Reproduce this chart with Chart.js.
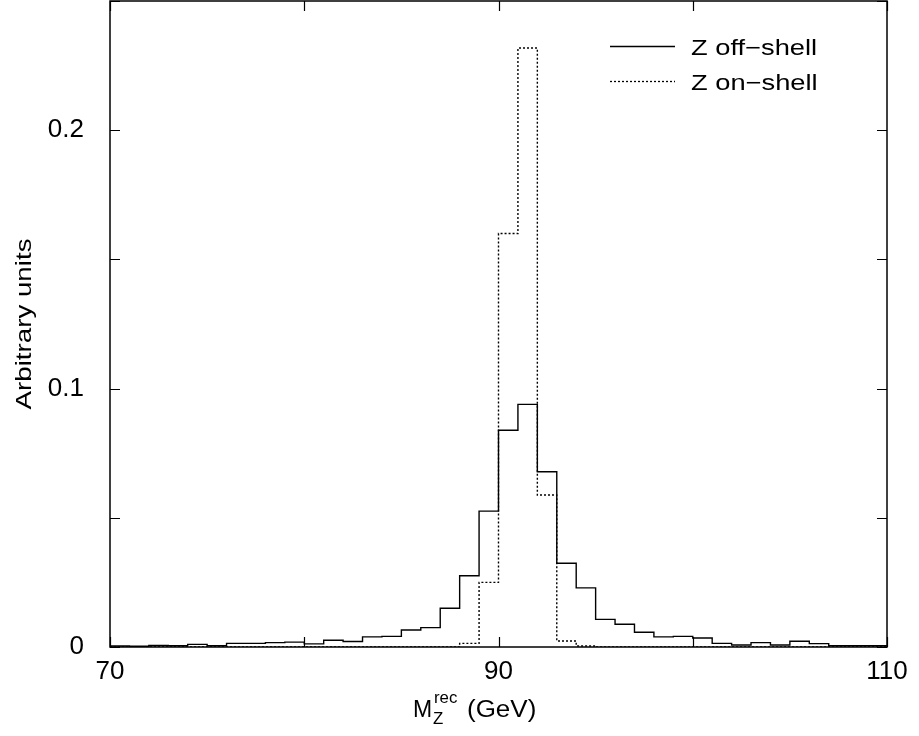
<!DOCTYPE html>
<html>
<head>
<meta charset="utf-8">
<script src="https://cdn.jsdelivr.net/npm/chart.js@4/dist/chart.umd.min.js"></script>
<style>
  html, body { margin: 0; padding: 0; background: #fff; }
  #wrap { width: 919px; height: 736px; }
</style>
</head>
<body>
<div id="wrap"><canvas id="histo" width="919" height="736"></canvas></div>
<script>
// bin edges: 1 GeV bins from 70 to 110
const binStart = 70;
const binWidth = 1;
const offShell = [
    0.0004, 0.0003, 0.0006, 0.0005, 0.0010, 0.0005, 0.0014, 0.0014, 0.0017, 0.0019,
    0.0012, 0.0026, 0.0021, 0.0039, 0.0041, 0.0066, 0.0075, 0.0150, 0.0276, 0.0526,
    0.0839, 0.0939, 0.0678, 0.0324, 0.0229, 0.0107, 0.0088, 0.0057, 0.0039, 0.0041,
    0.0035, 0.0014, 0.0008, 0.0017, 0.0008, 0.0022, 0.0013, 0.0005, 0.0005, 0.0005
];
const onShell = [
    0, 0, 0, 0, 0, 0, 0, 0, 0, 0,
    0, 0, 0, 0, 0, 0, 0, 0, 0.0014, 0.0250,
    0.1600, 0.2318, 0.0588, 0.0023, 0.0004, 0, 0, 0, 0, 0,
    0, 0, 0, 0, 0, 0, 0, 0, 0, 0
];
const seriesNames = ['Z off\u2212shell', 'Z on\u2212shell'];
const xLabelTicks = [70, 90, 110];
const yLabelTicks = [0, 0.1, 0.2];

const FONT = '"Liberation Sans", Arial, Helvetica, sans-serif';

// turn bin contents into step points (value holds from the left edge to the next edge)
function toSteps(values) {
    const pts = values.map((v, i) => ({ x: binStart + i * binWidth, y: v }));
    pts.push({ x: binStart + values.length * binWidth, y: values[values.length - 1] });
    return pts;
}

// the reference text is a bit wider than Liberation Sans, so stretch it horizontally
function wideText(ctx, text, x, y, sx) {
    ctx.save();
    ctx.translate(x, y);
    ctx.scale(sx, 1);
    ctx.fillText(text, 0, 0);
    ctx.restore();
}

// inward ticks on all four sides, the frame, the legend and the axis titles
const framePlugin = {
    id: 'frame',
    afterDatasetsDraw(chart) {
        const { ctx, chartArea: a, scales } = chart;
        const xs = scales.x, ys = scales.y;
        ctx.save();
        ctx.strokeStyle = '#000';
        ctx.lineWidth = 1.2;
        ctx.beginPath();
        for (let v = 70; v <= 110; v += 10) {
            const px = Math.round(xs.getPixelForValue(v)) + 0.5;
            ctx.moveTo(px, a.bottom); ctx.lineTo(px, a.bottom - 10);
            ctx.moveTo(px, a.top); ctx.lineTo(px, a.top + 10);
        }
        for (let v = 0; v <= 0.2501; v += 0.05) {
            const py = Math.round(ys.getPixelForValue(v)) + 0.5;
            ctx.moveTo(a.left, py); ctx.lineTo(a.left + 10, py);
            ctx.moveTo(a.right, py); ctx.lineTo(a.right - 10, py);
        }
        ctx.stroke();
        ctx.lineWidth = 1.5;
        ctx.strokeRect(a.left, a.top, a.right - a.left, a.bottom - a.top);

        // legend
        ctx.fillStyle = '#000';
        ctx.font = '22px ' + FONT;
        ctx.textBaseline = 'alphabetic';
        ctx.textAlign = 'left';
        const rows = [{ y: 46.5, dash: [] }, { y: 81.5, dash: [2, 2] }];
        rows.forEach((r, i) => {
            ctx.setLineDash(r.dash);
            ctx.lineWidth = 1.3;
            ctx.beginPath();
            ctx.moveTo(610, r.y); ctx.lineTo(675, r.y);
            ctx.stroke();
            ctx.setLineDash([]);
            wideText(ctx, seriesNames[i], 691, r.y + 8, 1.24);
        });

        // y title
        ctx.save();
        ctx.translate(31, (a.top + a.bottom) / 2);
        ctx.rotate(-Math.PI / 2);
        ctx.textAlign = 'center';
        ctx.font = '22px ' + FONT;
        wideText(ctx, 'Arbitrary units', 0, 0, 1.26);
        ctx.restore();

        // x title: M_Z^rec (GeV)
        const base = 717;
        ctx.textAlign = 'left';
        ctx.font = '23px ' + FONT;
        ctx.fillText('M', 413, base);
        ctx.font = '16px ' + FONT;
        wideText(ctx, 'rec', 434, base - 14, 1.05);
        wideText(ctx, 'Z', 433, base + 7, 1.05);
        ctx.font = '23px ' + FONT;
        wideText(ctx, '(GeV)', 467, base, 1.13);
        ctx.restore();
    }
};

const ctx = document.getElementById('histo').getContext('2d');
new Chart(ctx, {
    type: 'line',
    data: {
        datasets: [
            {
                label: seriesNames[0],
                data: toSteps(offShell),
                stepped: 'before',
                borderColor: '#000',
                borderWidth: 1.4,
                pointRadius: 0,
                fill: false
            },
            {
                label: seriesNames[1],
                data: toSteps(onShell),
                stepped: 'before',
                borderColor: '#000',
                borderWidth: 1.4,
                borderDash: [2, 2],
                pointRadius: 0,
                fill: false
            }
        ]
    },
    options: {
        responsive: false,
        animation: false,
        layout: { padding: { top: 1, right: 32, left: 0, bottom: 0 } },
        plugins: {
            legend: { display: false },
            tooltip: { enabled: false }
        },
        scales: {
            x: {
                type: 'linear',
                min: 70,
                max: 110,
                grid: { display: false },
                border: { display: false },
                ticks: {
                    stepSize: 20,
                    padding: 1,
                    color: '#000',
                    font: { family: FONT, size: 26 },
                    maxRotation: 0,
                    callback: v => xLabelTicks.includes(v) ? String(v) : ''
                },
                afterFit(scale) {
                    scale.height = 89;
                    scale.paddingLeft = 0;
                    scale.paddingRight = 0;
                }
            },
            y: {
                min: 0,
                max: 0.25,
                grid: { display: false },
                border: { display: false },
                ticks: {
                    stepSize: 0.1,
                    padding: 18,
                    color: '#000',
                    font: { family: FONT, size: 26 },
                    callback: v => {
                        const hit = yLabelTicks.find(t => Math.abs(t - v) < 1e-9);
                        return hit === undefined ? '' : String(hit);
                    }
                },
                afterFit(scale) {
                    scale.width = 110;
                    scale.paddingTop = 0;
                    scale.paddingBottom = 0;
                }
            }
        }
    },
    plugins: [framePlugin]
});
</script>
</body>
</html>
